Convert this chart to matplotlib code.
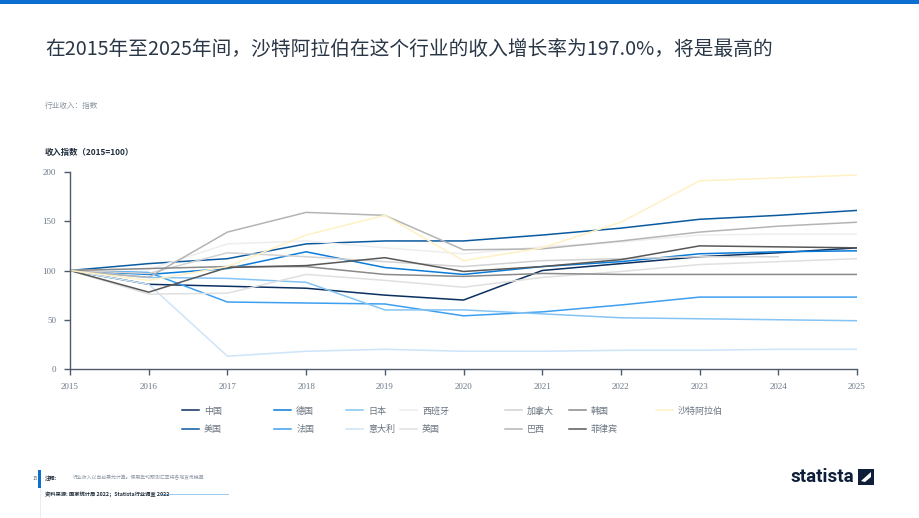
import matplotlib as mpl
mpl.use("Agg")
import matplotlib.pyplot as plt
from matplotlib.lines import Line2D
from matplotlib.patches import Rectangle, Polygon

plt.rcParams["font.family"] = ["Noto Sans CJK SC", "DejaVu Sans"]

# ---- data (index, 2015=100) ----
YEARS = [2015, 2016, 2017, 2018, 2019, 2020, 2021, 2022, 2023, 2024, 2025]
CHINA = [100, 86, 84, 82, 75, 70, 100, 107, 114, 118, 123]
USA = [100, 107, 112, 127, 130, 130, 136, 143, 152, 156, 161]
GERMANY = [100, 96, 102, 119, 103, 96, 104, 109, 117, 119, 120]
FRANCE = [100, 98, 68, 67, 66, 54, 58, 65, 73, 73, 73]
JAPAN = [100, 93, 92, 88, 60, 60, 56, 52, 51, 50, 49]
ITALY = [100, 86, 13, 18, 20, 18, 18, 19, 19, 20, 20]
SPAIN = [100, 101, 127, 130, 123, 117, 124, 129, 136, 137, 137]
UK = [100, 76, 77, 96, 90, 83, 93, 99, 106, 109, 112]
CANADA_YEARS = [2015, 2016, 2017, 2018, 2019, 2020, 2021, 2022, 2023, 2024]
CANADA = [100, 97, 118, 114, 109, 104, 110, 112, 114, 114]
BRAZIL = [100, 93, 139, 159, 156, 121, 122, 130, 139, 145, 149]
KOREA = [100, 102, 104, 104, 96, 94, 97, 96, 96, 96, 96]
PHILIPPINES = [100, 78, 103, 105, 113, 99, 104, 111, 125, 124, 123]
SAUDI = [100, 90, 104, 136, 156, 110, 123, 149, 191, 194, 197]

# (label, x, y, color) in legend column order
SERIES = [
    ("中国", YEARS, CHINA, "#0b2f5e"),
    ("美国", YEARS, USA, "#0a5aa0"),
    ("德国", YEARS, GERMANY, "#0a7bd8"),
    ("法国", YEARS, FRANCE, "#3d9ff0"),
    ("日本", YEARS, JAPAN, "#86c4f4"),
    ("意大利", YEARS, ITALY, "#cde4f9"),
    ("西班牙", YEARS, SPAIN, "#eeeeee"),
    ("英国", YEARS, UK, "#e0e0e0"),
    ("加拿大", CANADA_YEARS, CANADA, "#d2d2d2"),
    ("巴西", YEARS, BRAZIL, "#b4b4b4"),
    ("韩国", YEARS, KOREA, "#8a8a8a"),
    ("菲律宾", YEARS, PHILIPPINES, "#585858"),
    ("沙特阿拉伯", YEARS, SAUDI, "#fff1c4"),
]
LEG_X = [183, 275, 347, 401, 506, 570, 657]  # px, legend column starts

W, H = 920, 518
fig = plt.figure(figsize=(W / 100, H / 100), dpi=100)
fig.patch.set_facecolor("white")

ax = fig.add_axes([70 / W, 1 - 369 / H, (857 - 70) / W, (369 - 172) / H])
handles = {}
for lab, xs, ys, c in SERIES:
    ln, = ax.plot(xs, ys, color=c, lw=1.1, solid_joinstyle="miter")
    handles[lab] = ln

ax.set_xlim(2015, 2025)
ax.set_ylim(0, 200)
ax.set_xticks(YEARS)
ax.set_yticks([0, 50, 100, 150, 200])
for s in ["top", "right"]:
    ax.spines[s].set_visible(False)
for s in ["left", "bottom"]:
    ax.spines[s].set_color("#4d5b6b")
    ax.spines[s].set_linewidth(1.0)
ax.tick_params(colors="#4d5b6b", length=4, width=1.0, labelsize=6.5, labelcolor="#6b7888", pad=6)
for t in ax.get_xticklabels() + ax.get_yticklabels():
    t.set_fontfamily("Liberation Serif")

# legend columns
labels = [s[0] for s in SERIES]
for i, x in enumerate(LEG_X):
    labs = labels[2 * i:2 * i + 2]
    fig.legend([handles[l] for l in labs], labs, loc="upper left",
               bbox_to_anchor=((x - 6) / W, 1 - 402 / H), frameon=False,
               fontsize=6.5, labelcolor="#6b7581", handlelength=1.9,
               handletextpad=0.6, labelspacing=1.05, borderpad=0)

# header
fig.add_artist(Rectangle((0, 1 - 4 / H), 1, 4 / H, transform=fig.transFigure,
                         color="#0a6fd0", lw=0))
fig.text(45 / W, 1 - 50 / H, "在2015年至2025年间，沙特阿拉伯在这个行业的收入增长率为197.0%，将是最高的",
         fontsize=14.2, color="#2a3746", va="center", ha="left")
fig.text(45 / W, 1 - 106 / H, "行业收入：指数", fontsize=5.5, color="#8a94a0", va="center")
fig.text(45 / W, 1 - 152 / H, "收入指数（2015=100）", fontsize=6, color="#1f2d3d",
         fontweight="bold", va="center")

# footer
fig.text(33 / W, 1 - 478 / H, "15", fontsize=3.5, color="#5a6573", va="center")
fig.add_artist(Rectangle((38.5 / W, 1 - 488 / H), 2.2 / W, 18 / H,
                         transform=fig.transFigure, color="#0a6fd0", lw=0))
fig.add_artist(Line2D([40 / W, 40 / W], [0, 1 - 488 / H], transform=fig.transFigure,
                      color="#e6e9ee", lw=0.6))
fig.text(45 / W, 1 - 478 / H, "注释:", fontsize=3.8, color="#1f2d3d", fontweight="bold", va="center")
fig.text(73 / W, 1 - 478 / H, "行业收入以当前美元计算。使用年均预测汇率将各地货币换算",
         fontsize=3.5, color="#8a94a0", va="center")
fig.text(45 / W, 1 - 494 / H, "资料来源: 国家统计局 2022；Statista行业调查 2022",
         fontsize=3.8, color="#1f2d3d", fontweight="bold", va="center")
fig.add_artist(Line2D([161 / W, 228 / W], [1 - 494 / H] * 2, transform=fig.transFigure,
                      color="#9cc9f2", lw=0.7))

# statista logo
fig.text(854 / W, 1 - 477 / H, "statista", fontsize=13.5, color="#0f1f3a", fontweight="bold",
         ha="right", va="center", family="Roboto")
bx0, by0, bs = 858, 469, 16
fig.add_artist(Rectangle((bx0 / W, 1 - (by0 + bs) / H), bs / W, bs / H,
                         transform=fig.transFigure, color="#0f1f3a", lw=0))
fig.add_artist(Polygon([((bx0 + 3) / W, 1 - (by0 + 12) / H), ((bx0 + 13) / W, 1 - (by0 + 3) / H),
                        ((bx0 + 13) / W, 1 - (by0 + 8) / H), ((bx0 + 7) / W, 1 - (by0 + 13) / H)],
                       closed=True, transform=fig.transFigure, color="white", lw=0))

fig.savefig("out.png", dpi=100)
